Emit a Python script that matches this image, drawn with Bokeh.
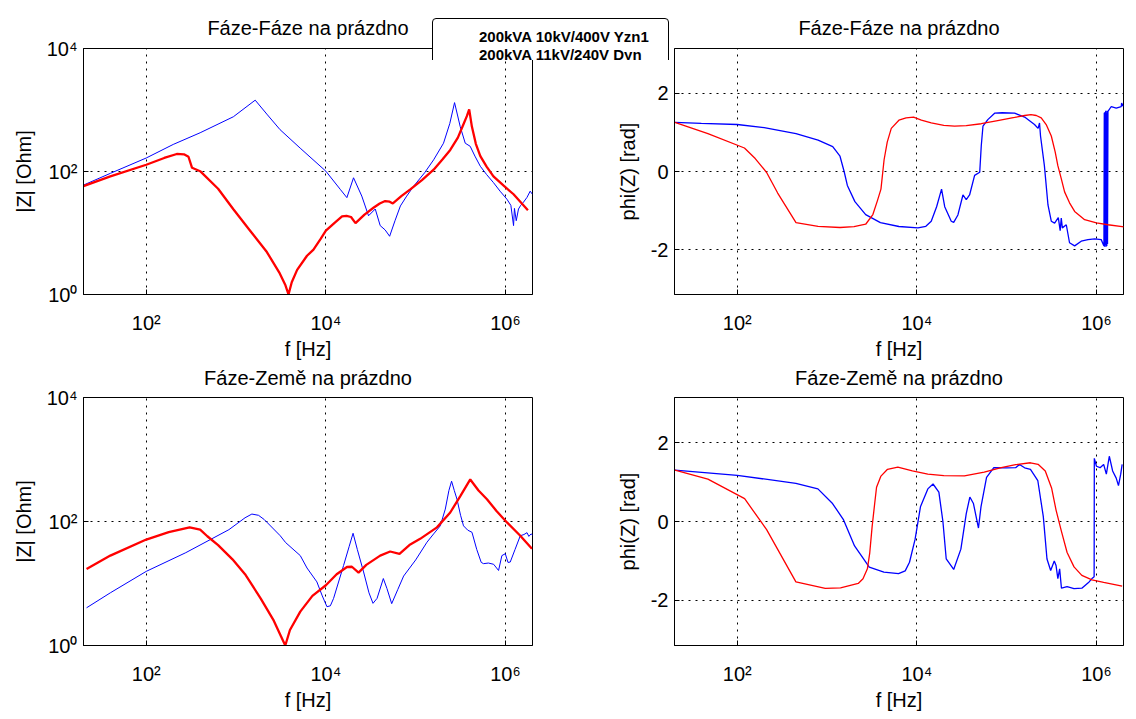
import numpy as np
from bokeh.plotting import figure
from bokeh.models import Range1d, FixedTicker, Legend, LegendItem
from bokeh.layouts import row, column
from bokeh.embed import file_html
from bokeh.resources import INLINE

FONT = "Liberation Sans"
BLUE = "#0000FF"
RED = "#FF0000"

TITLE_FF = "Fáze-Fáze na prázdno"
TITLE_FZ = "Fáze-Země na prázdno"
XLABEL = "f [Hz]"
YLABEL_MAG = "|Z| [Ohm]"
YLABEL_PH = "phi(Z) [rad]"
SERIES = ["200kVA 10kV/400V Yzn1", "200kVA 11kV/240V Dyn"]

X_TICKS = [100, 10000, 1000000]
X_TICK_LABELS = {100: "10²", 10000: "10⁴", 1000000: "10⁶"}
MAG_TICKS = [1, 100, 10000]
MAG_TICK_LABELS = {1: "10⁰", 100: "10²", 10000: "10⁴"}
PH_TICKS = [-2, 0, 2]
PH_TICK_LABELS = {-2: "-2", 0: "0", 2: "2"}

# ---- Fáze-Fáze |Z| (log10 f, log10 |Z|) ----
ff_mag_blue_logf = [1.301, 1.6, 2.0, 2.3, 2.6, 2.97, 3.213, 3.35, 3.49, 3.714, 4.0, 4.16, 4.234, 4.308,
                    4.40, 4.475, 4.55, 4.605, 4.66, 4.71, 4.77, 4.83, 4.90, 4.977, 5.1, 5.2, 5.31, 5.38,
                    5.433, 5.496, 5.552, 5.607, 5.66, 5.72, 5.79, 5.866, 5.94, 6.016, 6.06, 6.09, 6.10,
                    6.12, 6.145, 6.17, 6.2, 6.24, 6.275, 6.30]
ff_mag_blue_logz = [1.779, 1.97, 2.22, 2.44, 2.63, 2.89, 3.16, 2.92, 2.68, 2.38, 2.005, 1.71, 1.575, 1.898,
                    1.60, 1.28, 1.39, 1.12, 1.05, 0.947, 1.20, 1.44, 1.60, 1.76, 1.98, 2.19, 2.46, 2.78,
                    3.12, 2.73, 2.46, 2.41, 2.25, 2.085, 1.95, 1.82, 1.68, 1.55, 1.45, 1.12, 1.40,
                    1.20, 1.39, 1.45, 1.50, 1.58, 1.68, 1.63]
ff_mag_red_logf = [1.301, 1.6, 2.0, 2.2, 2.34, 2.42, 2.47, 2.51, 2.6, 2.8, 2.97, 3.15, 3.343, 3.48, 3.55,
                   3.584, 3.62, 3.68, 3.79, 3.862, 3.94, 4.0, 4.1, 4.18, 4.23, 4.28, 4.33, 4.43, 4.53,
                   4.60, 4.66, 4.71, 4.746, 4.84, 4.94, 5.07, 5.2, 5.3, 5.385, 5.47, 5.53, 5.57, 5.596,
                   5.626, 5.67, 5.72, 5.79, 5.866, 5.98, 6.09, 6.17, 6.25]
ff_mag_red_logz = [1.763, 1.92, 2.11, 2.22, 2.285, 2.28, 2.24, 2.06, 2.005, 1.72, 1.387, 1.05, 0.69, 0.36, 0.15,
                   0.0, 0.2, 0.4, 0.63, 0.73, 0.90, 1.037, 1.17, 1.27, 1.28, 1.26, 1.16, 1.30, 1.41,
                   1.48, 1.52, 1.51, 1.48, 1.60, 1.71, 1.86, 2.03, 2.20, 2.35, 2.55, 2.76, 2.90, 3.01,
                   2.73, 2.45, 2.25, 2.08, 1.92, 1.77, 1.63, 1.50, 1.37]

# ---- Fáze-Fáze phase (log10 f, rad) ----
ff_ph_blue_logf = [1.305, 1.6, 2.0, 2.3, 2.654, 2.9, 3.063, 3.144, 3.19, 3.226, 3.31, 3.43, 3.594, 3.80,
                   4.012, 4.10, 4.16, 4.22, 4.275, 4.31, 4.383, 4.41, 4.457, 4.513, 4.55, 4.587, 4.643,
                   4.70, 4.717, 4.736, 4.79, 4.866, 4.95, 5.088, 5.2, 5.31, 5.35, 5.366, 5.377, 5.42,
                   5.46, 5.497, 5.534, 5.575, 5.596, 5.608, 5.62, 5.664, 5.70, 5.757, 5.83, 5.905, 5.98,
                   6.053, 6.083, 6.087, 6.091, 6.095, 6.099, 6.103, 6.107, 6.111, 6.115, 6.119, 6.123,
                   6.128, 6.165, 6.22, 6.276, 6.28, 6.30]
ff_ph_blue_phi = [1.256, 1.23, 1.20, 1.12, 0.967, 0.80, 0.636, 0.39, 0.0, -0.355, -0.77, -1.10, -1.306, -1.405,
                  -1.44, -1.40, -1.27, -0.90, -0.45, -0.90, -1.27, -1.30, -1.11, -0.60, -0.72, -0.60, -0.10,
                  -0.02, 0.65, 1.157, 1.325, 1.49, 1.50, 1.49, 1.39, 1.20, 1.10, 1.24, 0.906, 0.15,
                  -0.855, -1.27, -1.32, -1.18, -1.51, -1.19, -1.44, -1.36, -1.82, -1.90, -1.78, -1.74, -1.72,
                  -1.74, -1.90, 1.50, -1.92, 1.52, -1.88, 1.55, -1.92, 1.50, -1.90, 1.55, -1.85,
                  1.535, 1.66, 1.62, 1.66, 1.75, 1.66]
ff_ph_red_logf = [1.305, 1.673, 2.08, 2.2, 2.327, 2.45, 2.654, 2.9, 3.144, 3.3, 3.43, 3.51, 3.56, 3.60,
                  3.635, 3.67, 3.715, 3.80, 3.88, 3.963, 4.05, 4.16, 4.3, 4.42, 4.55, 4.717, 4.9, 5.088,
                  5.2, 5.27, 5.33, 5.385, 5.44, 5.497, 5.54, 5.57, 5.61, 5.645, 5.70, 5.757, 5.868, 6.0,
                  6.128, 6.32]
ff_ph_red_phi = [1.256, 0.967, 0.60, 0.33, -0.025, -0.55, -1.306, -1.40, -1.43, -1.41, -1.347, -1.10, -0.75, -0.45,
                 0.30, 0.75, 1.10, 1.31, 1.37, 1.39, 1.31, 1.24, 1.18, 1.157, 1.17, 1.22, 1.30, 1.38,
                 1.43, 1.45, 1.43, 1.37, 1.20, 0.906, 0.50, 0.15, -0.20, -0.52, -0.80, -1.02, -1.23, -1.31,
                 -1.36, -1.42]

# ---- Fáze-Země |Z| ----
fz_mag_blue_logf = [1.335, 1.6, 2.0, 2.44, 2.92, 3.1, 3.176, 3.25, 3.315, 3.492, 3.552, 3.715, 3.79, 3.90,
                    3.96, 4.012, 4.05, 4.086, 4.197, 4.26, 4.303, 4.35, 4.42, 4.48, 4.525, 4.57, 4.64, 4.68,
                    4.733, 4.80, 4.866, 5.0, 5.126, 5.2, 5.274, 5.33, 5.37, 5.40, 5.43, 5.46, 5.50, 5.533,
                    5.58, 5.627, 5.68, 5.73, 5.756, 5.81, 5.868, 5.923, 5.96, 5.998, 6.028, 6.053, 6.107,
                    6.165, 6.206, 6.24, 6.26, 6.285, 6.313]
fz_mag_blue_logz = [0.608, 0.85, 1.196, 1.497, 1.868, 2.06, 2.12, 2.10, 2.03, 1.77, 1.66, 1.45, 1.25, 1.026,
                    0.80, 0.626, 0.64, 0.76, 1.29, 1.60, 1.81, 1.55, 1.186, 0.85, 0.68, 0.76, 1.08, 0.92,
                    0.675, 0.90, 1.12, 1.38, 1.666, 1.80, 1.93, 2.20, 2.50, 2.65, 2.50, 2.36, 2.10, 1.93,
                    1.86, 1.826, 1.55, 1.34, 1.32, 1.33, 1.31, 1.21, 1.45, 1.48, 1.34, 1.346, 1.55,
                    1.77, 1.79, 1.82, 1.76, 1.80, 1.77]
fz_mag_red_logf = [1.335, 1.6, 2.0, 2.25, 2.483, 2.6, 2.68, 2.8, 2.96, 3.1, 3.275, 3.42, 3.50, 3.548, 3.60,
                   3.715, 3.85, 4.0, 4.12, 4.235, 4.29, 4.364, 4.45, 4.605, 4.716, 4.82, 4.93, 5.05, 5.237,
                   5.385, 5.497, 5.608, 5.70, 5.794, 5.9, 6.017, 6.165, 6.295]
fz_mag_red_logz = [1.233, 1.45, 1.709, 1.83, 1.905, 1.87, 1.762, 1.62, 1.39, 1.15, 0.757, 0.40, 0.15, 0.0, 0.25,
                   0.547, 0.80, 0.972, 1.15, 1.266, 1.27, 1.175, 1.30, 1.45, 1.516, 1.479, 1.62, 1.72, 1.905,
                   2.145, 2.41, 2.678, 2.50, 2.358, 2.17, 1.985, 1.77, 1.56]

# ---- Fáze-Země phase ----
fz_ph_blue_logf = [1.306, 2.0, 2.653, 2.898, 3.061, 3.184, 3.306, 3.47, 3.633, 3.796, 3.87, 3.918, 3.98, 4.04,
                   4.122, 4.18, 4.245, 4.29, 4.327, 4.41, 4.49, 4.55, 4.59, 4.63, 4.686, 4.714, 4.776, 4.857,
                   5.0, 5.10, 5.143, 5.2, 5.265, 5.347, 5.408, 5.449, 5.49, 5.53, 5.55, 5.57, 5.59, 5.61,
                   5.673, 5.75, 5.837, 5.918, 5.95, 5.974, 5.976, 6.0, 6.04, 6.08, 6.11, 6.143, 6.18, 6.22,
                   6.245, 6.27, 6.286]
fz_ph_blue_phi = [1.30, 1.17, 0.967, 0.826, 0.455, 0.041, -0.62, -1.157, -1.28, -1.32, -1.25, -1.033, -0.455, 0.372,
                  0.826, 0.95, 0.744, 0.0, -0.95, -1.215, -0.70, 0.20, 0.62, 0.455, -0.165, 0.372, 1.116, 1.364,
                  1.36, 1.364, 1.446, 1.36, 1.32, 1.033, 0.124, -0.95, -1.24, -1.00, -1.116, -1.446, -1.20, -1.69,
                  -1.653, -1.70, -1.69, -1.53, -1.446, -1.40, 1.60, 1.40, 1.364, 1.446, 1.20, 1.653, 1.28, 1.10,
                  0.909, 1.20, 1.446]
fz_ph_red_logf = [1.306, 1.673, 2.082, 2.327, 2.653, 2.98, 3.15, 3.347, 3.40, 3.449, 3.475, 3.502, 3.53, 3.551,
                  3.60, 3.673, 3.788, 3.95, 4.122, 4.3, 4.53, 4.75, 4.939, 5.1, 5.265, 5.35, 5.43, 5.5, 5.55,
                  5.61, 5.673, 5.75, 5.837, 5.95, 6.08, 6.286]
fz_ph_red_phi = [1.30, 1.074, 0.578, -0.207, -1.529, -1.694, -1.68, -1.57, -1.45, -1.198, -0.80, -0.124, 0.45, 0.868,
                 1.15, 1.322, 1.38, 1.28, 1.198, 1.16, 1.157, 1.25, 1.364, 1.44, 1.488, 1.45, 1.281, 0.85, 0.289,
                 -0.25, -0.785, -1.15, -1.364, -1.48, -1.545, -1.636]


def hz(logf):
    return 10 ** np.array(logf)


def style(p, mag, title_standoff):
    p.title.text_font = FONT
    p.title.text_font_size = "20px"
    p.title.text_font_style = "normal"
    p.title.text_color = "black"
    p.title.align = "center"
    p.title.standoff = title_standoff
    p.outline_line_color = "black"
    p.outline_line_alpha = 1
    p.outline_line_width = 1
    p.background_fill_color = "white"
    p.border_fill_color = None
    xt = FixedTicker(ticks=X_TICKS)
    p.xaxis.ticker = xt
    p.xgrid.ticker = xt
    p.xaxis.major_label_overrides = X_TICK_LABELS
    if mag:
        yt = FixedTicker(ticks=MAG_TICKS)
        p.yaxis.major_label_overrides = MAG_TICK_LABELS
    else:
        yt = FixedTicker(ticks=PH_TICKS)
        p.yaxis.major_label_overrides = PH_TICK_LABELS
    p.yaxis.ticker = yt
    p.ygrid.ticker = yt
    for ax in (p.xaxis[0], p.yaxis[0]):
        ax.axis_line_color = "black"
        ax.major_tick_line_color = "black"
        ax.major_tick_in = 5
        ax.major_tick_out = 0
        ax.minor_tick_line_color = None
        ax.major_label_text_font = FONT
        ax.major_label_text_font_size = "20px"
        ax.major_label_text_color = "black"
        ax.axis_label_text_font = FONT
        ax.axis_label_text_font_size = "20px"
        ax.axis_label_text_font_style = "normal"
        ax.axis_label_text_color = "black"
    p.xaxis.major_label_standoff = 17
    p.yaxis.major_label_standoff = 6
    p.xaxis.axis_label_standoff = 1
    p.yaxis.axis_label_standoff = 9
    for g in (p.xgrid[0], p.ygrid[0]):
        g.grid_line_color = "black"
        g.grid_line_alpha = 1
        g.grid_line_width = 1
        g.grid_line_dash = "2 5"


def make(title, mag, width, height, left, right, top, bottom, title_standoff, **kw):
    p = figure(width=width, height=height, title=title,
               x_axis_type="log", y_axis_type="log" if mag else "linear",
               x_range=Range1d(20, 2e6),
               y_range=Range1d(1, 1e4) if mag else Range1d(-np.pi, np.pi),
               x_axis_label=XLABEL, y_axis_label=YLABEL_MAG if mag else YLABEL_PH,
               output_backend="svg", toolbar_location=None,
               min_border_left=left, min_border_right=right,
               min_border_top=top, min_border_bottom=bottom, **kw)
    style(p, mag, title_standoff)
    return p


# Top-left: Fáze-Fáze |Z|
p1 = make(TITLE_FF, True, 592, 362, 83, 60, 48, 66, 19)
p1.border_fill_color = "white"
p1.line(hz(ff_mag_blue_logf), 10 ** np.array(ff_mag_blue_logz), color=BLUE, line_width=1)
p1.line(hz(ff_mag_red_logf), 10 ** np.array(ff_mag_red_logz), color=RED, line_width=2.3)

# Legend box, overlapping the top-left plot's corner and the gap between the plots
pl = figure(width=240, height=72, x_range=Range1d(0, 1), y_range=Range1d(0, 1), title=None,
            output_backend="svg", toolbar_location=None, min_border=0,
            x_axis_location=None, y_axis_location=None, margin=(12, 0, 0, -162))
pl.outline_line_color = None
pl.background_fill_color = None
pl.border_fill_color = None
pl.grid.visible = False
lb = pl.line([], [], color=BLUE, line_width=3)
lr = pl.line([], [], color=RED, line_width=3)
leg = Legend(items=[LegendItem(label=SERIES[0], renderers=[lb]),
                    LegendItem(label=SERIES[1], renderers=[lr])],
             location="top_left", margin=2, padding=8, spacing=0,
             glyph_width=30, glyph_height=18, label_height=18, label_width=181,
             label_standoff=8, label_text_font=FONT, label_text_font_size="15px",
             label_text_font_style="bold", label_text_color="black",
             border_line_color="black", border_line_width=1, border_line_alpha=1,
             background_fill_color="white", background_fill_alpha=1)
try:
    leg.border_radius = 4
except Exception:
    pass
pl.add_layout(leg)

# Top-right: Fáze-Fáze phase (transparent border so the legend box shows)
p2 = make(TITLE_FF, False, 536, 362, 82, 5, 48, 66, 19, margin=(0, 0, 0, -78))
p2.line(hz(ff_ph_blue_logf), ff_ph_blue_phi, color=BLUE, line_width=1.3)
p2.line(hz(ff_ph_red_logf), ff_ph_red_phi, color=RED, line_width=1.3)

# Bottom row slightly overlaps the top row's (transparent) bottom border
p3 = make(TITLE_FZ, True, 592, 357, 83, 60, 41, 66, 17, margin=(-6, 0, 0, 0))
p3.line(hz(fz_mag_blue_logf), 10 ** np.array(fz_mag_blue_logz), color=BLUE, line_width=1)
p3.line(hz(fz_mag_red_logf), 10 ** np.array(fz_mag_red_logz), color=RED, line_width=2.3)

p4 = make(TITLE_FZ, False, 536, 357, 82, 5, 41, 66, 17, margin=(-6, 0, 0, 0))
p4.line(hz(fz_ph_blue_logf), fz_ph_blue_phi, color=BLUE, line_width=1.3)
p4.line(hz(fz_ph_red_logf), fz_ph_red_phi, color=RED, line_width=1.3)

layout = column(row(p1, pl, p2), row(p3, p4))
open("out.html", "w").write(file_html(layout, INLINE))
